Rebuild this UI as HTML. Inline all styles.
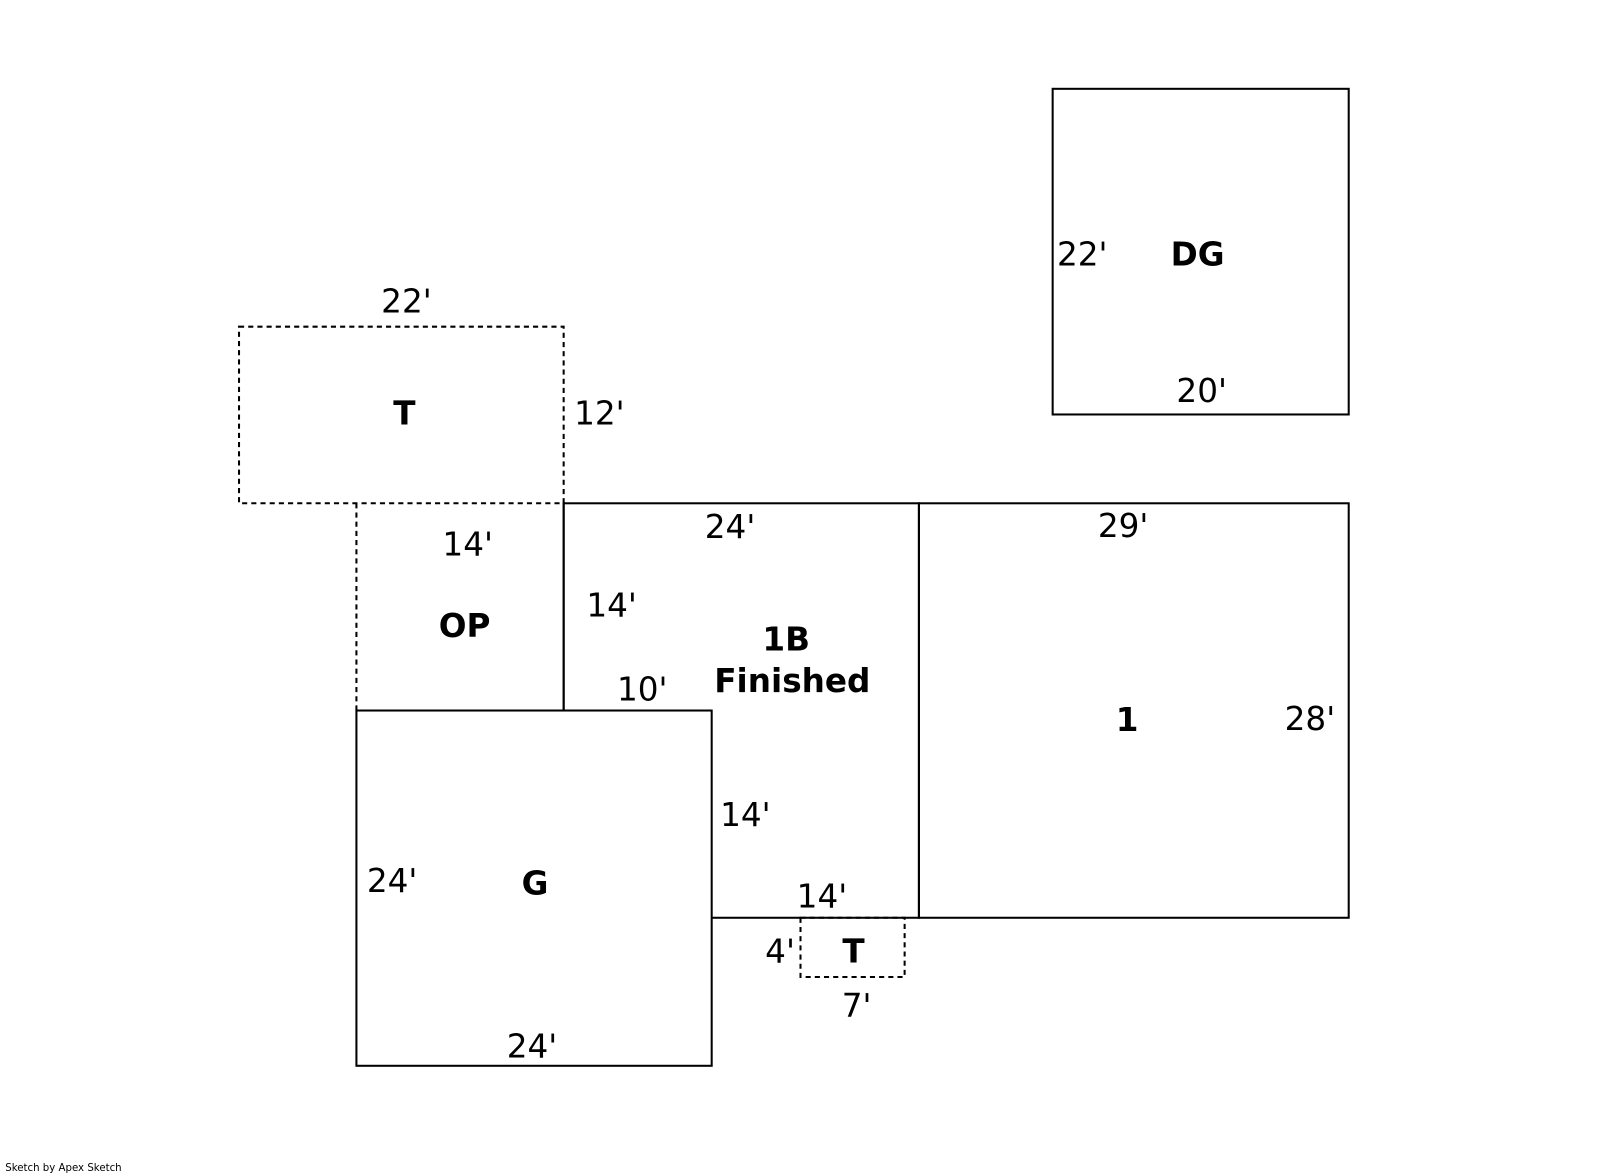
<!DOCTYPE html>
<html><head><meta charset="utf-8"><style>
html,body{margin:0;padding:0;background:#fff;}
svg{display:block;}
text{font-family:"DejaVu Sans","Liberation Sans",sans-serif;font-size:32px;fill:#000;}
.b{font-weight:bold;}
</style></head><body>
<svg width="1601" height="1174" viewBox="0 0 1568 1150" xmlns="http://www.w3.org/2000/svg">
<g fill="none" stroke="#000" stroke-width="2">
<rect x="1031" y="87" width="290" height="319"/>
<rect x="552" y="493" width="348" height="406"/>
<rect x="900" y="493" width="421" height="406"/>
<rect x="349" y="696" width="348" height="348" fill="#fff"/>
<line x1="552" y1="493" x2="552" y2="696"/>
<g stroke-dasharray="5,4">
<rect x="234" y="320" width="318" height="173"/>
<line x1="349" y1="493" x2="349" y2="696"/>
<rect x="784" y="899" width="102" height="58"/>
</g>
</g>
<g text-anchor="middle">
<text x="398" y="306">22'</text>
<text x="396" y="416" class="b">T</text>
<text x="587" y="416">12'</text>
<text x="458" y="544">14'</text>
<text x="455" y="624" class="b">OP</text>
<text x="715" y="527">24'</text>
<text x="599" y="604">14'</text>
<text x="770" y="637" class="b">1B</text>
<text x="776" y="678" class="b">Finished</text>
<text x="629" y="686">10'</text>
<text x="1100" y="526">29'</text>
<text x="1104" y="716" class="b">1</text>
<text x="1283" y="715">28'</text>
<text x="1173" y="260" class="b">DG</text>
<text x="1060" y="260">22'</text>
<text x="1177" y="394">20'</text>
<text x="730" y="809">14'</text>
<text x="384" y="874">24'</text>
<text x="524" y="876" class="b">G</text>
<text x="805" y="889">14'</text>
<text x="764" y="943">4'</text>
<text x="836" y="943" class="b">T</text>
<text x="839" y="996">7'</text>
<text x="521" y="1036">24'</text>
</g>
<text x="5" y="1147" style="font-size:10px">Sketch by Apex Sketch</text>
</svg>
</body></html>
